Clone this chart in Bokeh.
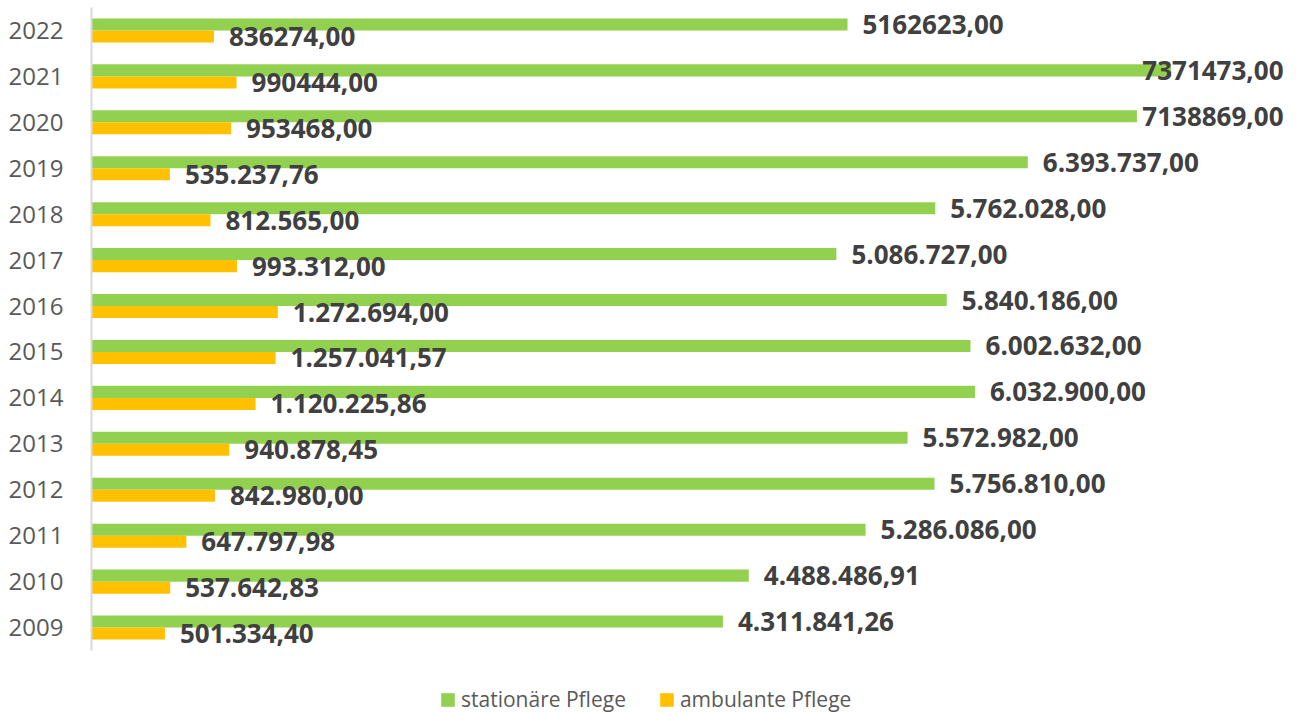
from bokeh.plotting import figure
from bokeh.models import Range1d, ColumnDataSource, Legend, LegendItem, FixedTicker
from bokeh.transform import dodge
from bokeh.embed import file_html
from bokeh.resources import INLINE
from bokeh.core.properties import value

years = ["2009", "2010", "2011", "2012", "2013", "2014", "2015", "2016",
         "2017", "2018", "2019", "2020", "2021", "2022"]
stationaer = [4311841.26, 4488486.91, 5286086.00, 5756810.00, 5572982.00, 6032900.00,
              6002632.00, 5840186.00, 5086727.00, 5762028.00, 6393737.00, 7138869.00,
              7371473.00, 5162623.00]
ambulant = [501334.40, 537642.83, 647797.98, 842980.00, 940878.45, 1120225.86,
            1257041.57, 1272694.00, 993312.00, 812565.00, 535237.76, 953468.00,
            990444.00, 836274.00]
stat_labels = ["4.311.841,26", "4.488.486,91", "5.286.086,00", "5.756.810,00",
               "5.572.982,00", "6.032.900,00", "6.002.632,00", "5.840.186,00",
               "5.086.727,00", "5.762.028,00", "6.393.737,00", "7138869,00",
               "7371473,00", "5162623,00"]
amb_labels = ["501.334,40", "537.642,83", "647.797,98", "842.980,00", "940.878,45",
              "1.120.225,86", "1.257.041,57", "1.272.694,00", "993.312,00",
              "812.565,00", "535.237,76", "953468,00", "990444,00", "836274,00"]

X_END = 8.14e6
GREEN = "#92D050"
ORANGE = "#FFC000"
LABEL_COLOR = "#404040"

n = len(years)
pos = list(range(n))
CAT_PX = 45.93
FIG_H = 713
TOP = 7
frame_h = FIG_H - TOP
y_end = n - 0.5
y_start = y_end - frame_h / CAT_PX


def label_positions(vals):
    xs, aligns, offs = [], [], []
    for v in vals:
        if v > 0.85 * X_END:
            xs.append(X_END); aligns.append("right"); offs.append(0)
        else:
            xs.append(v); aligns.append("left"); offs.append(15)
    return xs, aligns, offs


sx, sa, so = label_positions(stationaer)
ax, aa, ao = label_positions(ambulant)

src = ColumnDataSource(dict(
    pos=pos, year=years, stat=stationaer, amb=ambulant,
    stat_lab=stat_labels, amb_lab=amb_labels,
    stat_lx=sx, stat_al=sa, stat_off=so,
    amb_lx=ax, amb_al=aa, amb_off=ao,
))

p = figure(width=1290, height=FIG_H, output_backend="svg", toolbar_location=None,
           y_range=Range1d(y_start, y_end), x_range=Range1d(0, X_END),
           min_border_left=91, min_border_right=7, min_border_top=TOP,
           min_border_bottom=0)
p.outline_line_color = None
p.xgrid.visible = False
p.ygrid.visible = False
p.xaxis.visible = False

g = p.hbar(y=dodge("pos", 0.131), right="stat", left=0, height=0.262,
           source=src, fill_color=GREEN, line_color=None)
o = p.hbar(y=dodge("pos", -0.131), right="amb", left=0, height=0.262,
           source=src, fill_color=ORANGE, line_color=None)

p.text(x="stat_lx", y=dodge("pos", 0.131), text="stat_lab", source=src,
       text_align="stat_al", x_offset="stat_off", text_baseline="middle",
       text_font=value("Open Sans"), text_font_style="bold", text_font_size="26px",
       text_color=LABEL_COLOR)
p.text(x="amb_lx", y=dodge("pos", -0.131), text="amb_lab", source=src,
       text_align="amb_al", x_offset="amb_off", text_baseline="middle",
       text_font=value("Open Sans"), text_font_style="bold", text_font_size="26px",
       text_color=LABEL_COLOR)

ya = p.yaxis[0]
ya.ticker = FixedTicker(ticks=pos)
ya.major_label_overrides = {i: y for i, y in zip(pos, years)}
ya.bounds = (-0.5, y_end)
ya.axis_line_color = "#D9D9D9"
ya.axis_line_width = 2
ya.major_tick_line_color = None
ya.minor_tick_line_color = None
ya.major_tick_out = 0
ya.major_tick_in = 0
ya.minor_tick_out = 0
ya.minor_tick_in = 0
ya.major_label_standoff = 28
ya.major_label_text_font = "Open Sans"
ya.major_label_text_font_size = "24px"
ya.major_label_text_color = "#595959"

legend = Legend(items=[LegendItem(label="stationäre Pflege", renderers=[g]),
                       LegendItem(label="ambulante Pflege", renderers=[o])],
                orientation="horizontal", location=(348, 0),
                padding=0, margin=0, spacing=32, label_standoff=5,
                glyph_width=17, glyph_height=17, label_height=17,
                label_text_font="Open Sans", label_text_font_size="21px",
                label_text_color="#595959", border_line_color=None,
                background_fill_alpha=0)
p.add_layout(legend, "center")

open("out.html", "w").write(file_html(p, INLINE))
